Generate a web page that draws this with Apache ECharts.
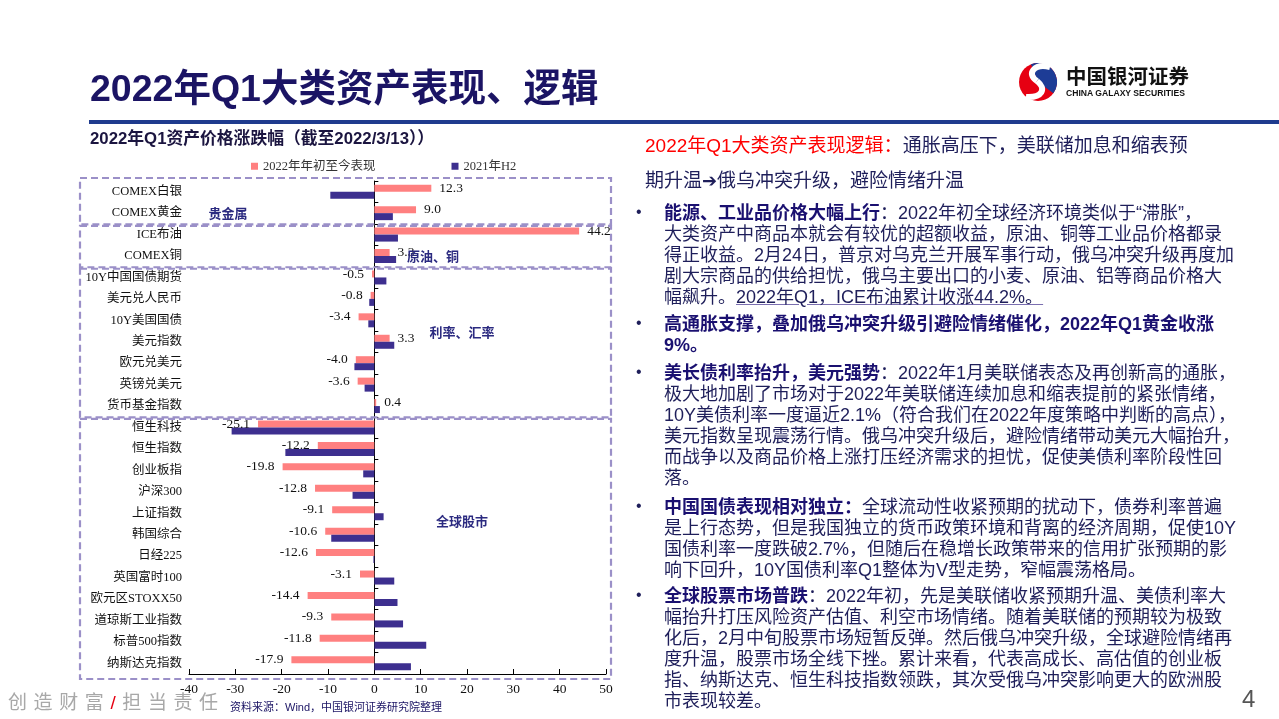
<!DOCTYPE html>
<html>
<head>
<meta charset="utf-8">
<script src="https://cdn.jsdelivr.net/npm/echarts@6/dist/echarts.min.js"></script>
<style>
html,body{margin:0;padding:0;background:#fff;}
#page{position:relative;width:1279px;height:719px;overflow:hidden;background:#fff;font-family:"Liberation Sans","Noto Sans CJK SC",sans-serif;}
#chart{position:absolute;left:0;top:0;width:1279px;height:719px;}
.t{position:absolute;white-space:nowrap;pointer-events:none;}
.para{position:absolute;left:664px;font-size:18px;line-height:21px;color:#1E1E5A;white-space:nowrap;}
.para b{color:#1A1070;}
.bul{position:absolute;left:636px;font-size:16px;color:#1E1E5A;}
.arr{font-family:"DejaVu Sans",sans-serif;font-weight:bold;font-size:18px;}
</style>
</head>
<body>
<div id="page">
<div id="chart"></div>
<div class="t" style="left:90px;top:65px;font-size:37.5px;line-height:46px;font-weight:bold;color:#1B1464;">2022年Q1大类资产表现、逻辑</div>
<div class="t" style="left:89px;top:120px;width:1190px;height:4px;background:#1F3B8E;"></div>
<div class="t" style="left:90px;top:129px;font-size:16.8px;line-height:20px;font-weight:bold;color:#1B1540;">2022年Q1资产价格涨跌幅（截至2022/3/13））</div>

<div class="t" style="left:645px;top:128px;font-size:19px;line-height:35px;color:#1E1E5A;"><span style="color:#FF0000;">2022年Q1大类资产表现逻辑：</span>通胀高压下，美联储加息和缩表预<br>期升温<span class="arr">➔</span>俄乌冲突升级，避险情绪升温</div>

<div class="bul" style="top:203px;">•</div>
<div class="para" style="top:203px;"><b>能源、工业品价格大幅上行</b>：2022年初全球经济环境类似于“滞胀”，<br>大类资产中商品本就会有较优的超额收益，原油、铜等工业品价格都录<br>得正收益。2月24日，普京对乌克兰开展军事行动，俄乌冲突升级再度加<br>剧大宗商品的供给担忧，俄乌主要出口的小麦、原油、铝等商品价格大<br>幅飙升。<span style="text-decoration:underline;text-decoration-color:#7B6FB0;">2022年Q1，ICE布油累计收涨44.2%。</span></div>

<div class="bul" style="top:314px;">•</div>
<div class="para" style="top:314px;"><b>高通胀支撑，叠加俄乌冲突升级引避险情绪催化，2022年Q1黄金收涨<br>9%。</b></div>

<div class="bul" style="top:363px;">•</div>
<div class="para" style="top:363px;"><b>美长债利率抬升，美元强势</b>：2022年1月美联储表态及再创新高的通胀，<br>极大地加剧了市场对于2022年美联储连续加息和缩表提前的紧张情绪，<br>10Y美债利率一度逼近2.1%（符合我们在2022年度策略中判断的高点），<br>美元指数呈现震荡行情。俄乌冲突升级后，避险情绪带动美元大幅抬升，<br>而战争以及商品价格上涨打压经济需求的担忧，促使美债利率阶段性回<br>落。</div>

<div class="bul" style="top:497px;">•</div>
<div class="para" style="top:497px;"><b>中国国债表现相对独立：</b>全球流动性收紧预期的扰动下，债券利率普遍<br>是上行态势，但是我国独立的货币政策环境和背离的经济周期，促使10Y<br>国债利率一度跌破2.7%，但随后在稳增长政策带来的信用扩张预期的影<br>响下回升，10Y国债利率Q1整体为V型走势，窄幅震荡格局。</div>

<div class="bul" style="top:586px;">•</div>
<div class="para" style="top:586px;"><b>全球股票市场普跌</b>：2022年初，先是美联储收紧预期升温、美债利率大<br>幅抬升打压风险资产估值、利空市场情绪。随着美联储的预期较为极致<br>化后，2月中旬股票市场短暂反弹。然后俄乌冲突升级，全球避险情绪再<br>度升温，股票市场全线下挫。累计来看，代表高成长、高估值的创业板<br>指、纳斯达克、恒生科技指数领跌，其次受俄乌冲突影响更大的欧洲股<br>市表现较差。</div>

<div class="t" style="left:8px;top:691px;font-size:19px;line-height:24px;color:#A8A8A8;letter-spacing:6.6px;">创造财富<span style="color:#E60012;">/</span>担当责任</div>
<div class="t" style="left:230px;top:700px;font-size:11px;line-height:14px;color:#1B1464;">资料来源：Wind，中国银河证券研究院整理</div>
<div class="t" style="left:1242px;top:685px;font-size:24px;line-height:28px;color:#555;">4</div>
<div class="t" style="left:1066px;top:64px;font-size:20.5px;line-height:26px;font-weight:bold;color:#111;">中国银河证券</div>
<div class="t" style="left:1066px;top:88px;font-size:8.6px;line-height:11px;font-weight:bold;color:#111;">CHINA GALAXY SECURITIES</div>
</div>
<script>
// ---- data ----
const categories = ['COMEX白银','COMEX黄金','ICE布油','COMEX铜','10Y中国国债期货','美元兑人民币','10Y美国国债','美元指数','欧元兑美元','英镑兑美元','货币基金指数','恒生科技','恒生指数','创业板指','沪深300','上证指数','韩国综合','日经225','英国富时100','欧元区STOXX50','道琼斯工业指数','标普500指数','纳斯达克指数'];
const ytd2022 = [12.3, 9.0, 44.2, 3.3, -0.5, -0.8, -3.4, 3.3, -4.0, -3.6, 0.4, -25.1, -12.2, -19.8, -12.8, -9.1, -10.6, -12.6, -3.1, -14.4, -9.3, -11.8, -17.9];
const h2021 = [-9.5, 4.0, 5.1, 4.7, 2.6, -1.1, -1.3, 4.3, -4.3, -2.1, 1.2, -30.8, -19.2, -2.4, -4.7, 2.0, -9.3, -0.2, 4.3, 5.0, 6.2, 11.2, 7.9];
const seriesNames = ['2022年年初至今表现', '2021年H2'];
const groups = [
  {from:0, to:1, name:'贵金属', lx:228, li:1},
  {from:2, to:3, name:'原油、铜', lx:433, li:3},
  {from:4, to:10, name:'利率、汇率', lx:462, li:6.55},
  {from:11, to:22, name:'全球股市', lx:462, li:15.37}
];

const SERIF = '"Liberation Serif","Noto Sans CJK SC",serif';
const chart = echarts.init(document.getElementById('chart'));
chart.setOption({
  animation: false,
  grid: {left: 189, right: 673, top: 181, bottom: 45, containLabel: false},
  legend: {
    top: 155, left: 246, itemWidth: 7, itemHeight: 7, itemGap: 76, icon: 'rect',
    textStyle: {fontFamily: SERIF, fontSize: 12.5, color: '#333'},
    data: seriesNames
  },
  xAxis: {
    type: 'value', min: -40, max: 50, interval: 10,
    axisLine: {show: true, onZero: false, lineStyle: {color: '#000', width: 1}},
    axisTick: {show: true, inside: true, length: 5, lineStyle: {color: '#000'}},
    splitLine: {show: false},
    axisLabel: {fontFamily: SERIF, fontSize: 13.5, color: '#111', margin: 9}
  },
  yAxis: [
    {
      type: 'category', data: categories, inverse: true, position: 'left',
      axisLine: {show: false, onZero: false}, axisTick: {show: false},
      axisLabel: {fontFamily: SERIF, fontSize: 12.5, color: '#111', margin: 7}
    },
    {
      type: 'category', data: categories, inverse: true, position: 'left',
      axisLine: {show: true, onZero: true, lineStyle: {color: '#000', width: 1}},
      axisTick: {show: true, inside: true, length: 4, lineStyle: {color: '#000'}},
      axisLabel: {show: false}
    }
  ],
  series: [
    {
      name: seriesNames[0], type: 'bar', yAxisIndex: 0, barWidth: 7, barGap: '0%',
      itemStyle: {color: '#FF8080'},
      data: ytd2022.map(v => ({value: v, label: {position: v < 0 ? 'left' : 'right'}})),
      label: {show: true, distance: 8, fontFamily: SERIF, fontSize: 13.5, color: '#111',
        formatter: p => p.value.toFixed(1)}
    },
    {
      name: seriesNames[1], type: 'bar', yAxisIndex: 0, barWidth: 7, barGap: '0%',
      itemStyle: {color: '#3D2F8F'},
      data: h2021
    }
  ]
});

const yc = i => chart.convertToPixel({yAxisIndex: 0}, i);
const band = yc(1) - yc(0);
const gfx = [];
groups.forEach((g, k) => {
  const top = yc(g.from) - band / 2 + (k === 0 ? -3 : 2);
  const bot = yc(g.to) + band / 2 + (k === groups.length - 1 ? 5 : 0.5);
  gfx.push({type: 'rect', z: 10, shape: {x: 80, y: top, width: 531, height: bot - top},
    style: {fill: 'none', stroke: '#9B90C8', lineWidth: 2.2, lineDash: [7, 4]}});
  const ly = yc(Math.floor(g.li)) + (g.li - Math.floor(g.li)) * band;
  gfx.push({type: 'text', z: 11, x: g.lx, y: ly,
    style: {text: g.name, fill: '#2B2A80', font: 'bold 13px "Noto Sans CJK SC",sans-serif', textAlign: 'center', textVerticalAlign: 'middle'}});
});
// logo
gfx.push({type: 'circle', shape: {cx: 1038, cy: 82, r: 19}, style: {fill: '#E60012'}});
gfx.push({type: 'sector', shape: {cx: 1038, cy: 82, r: 19, startAngle: -Math.PI * 0.62, endAngle: Math.PI * 0.2}, style: {fill: '#1D3C96'}});
gfx.push({type: 'bezierCurve', z: 5, shape: {x1: 1050, y1: 67, cpx1: 1034, cpy1: 63, cpx2: 1026, cpy2: 74, x2: 1037, y2: 81}, style: {fill: 'none', stroke: '#fff', lineWidth: 6}});
gfx.push({type: 'bezierCurve', z: 5, shape: {x1: 1037, y1: 81, cpx1: 1047, cpx2: 1042, cpy1: 89, cpy2: 98, x2: 1026, y2: 97}, style: {fill: 'none', stroke: '#fff', lineWidth: 6}});
chart.setOption({graphic: gfx});
</script>
</body>
</html>
